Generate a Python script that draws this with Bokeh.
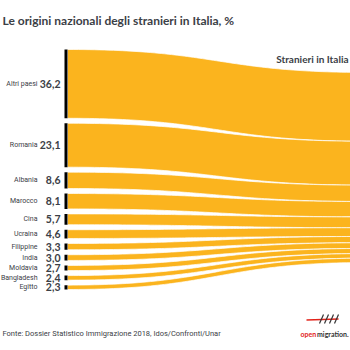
import numpy as np
from bokeh.plotting import figure
from bokeh.models import Range1d
from bokeh.core.properties import value
from bokeh.embed import file_html
from bokeh.resources import INLINE

# ---- data ----
countries = ["Altri paesi", "Romania", "Albania", "Marocco", "Cina", "Ucraina",
             "Filippine", "India", "Moldavia", "Bangladesh", "Egitto"]
shares = [36.2, 23.1, 8.6, 8.1, 5.7, 4.6, 3.3, 3.0, 2.7, 2.4, 2.3]
share_labels = ["36,2", "23,1", "8,6", "8,1", "5,7", "4,6", "3,3", "3,0", "2,7", "2,4", "2,3"]
target = "Stranieri in Italia"
title = "Le origini nazionali degli stranieri in Italia, %"
source = "Fonte: Dossier Statistico Immigrazione 2018, Idos/Confronti/Unar"

# ---- layout (screen-like units) ----
W = H = 350
scale = 1.9      # px per percentage point
gap = 5.0
left_top = 49.0
right_top = 72.0
x_node0, x_node1 = 64.0, 67.0
x_end = 368.0
x_label = 37.0
x_value = 60.0
yellow = "#FBB41E"
dark = "#3b4046"

p = figure(width=W, height=H, output_backend="svg", toolbar_location=None,
           x_range=Range1d(0, W), y_range=Range1d(H, 0),
           min_border=0, min_border_left=0, min_border_right=0,
           min_border_top=0, min_border_bottom=0)
p.axis.visible = False
p.grid.visible = False
p.outline_line_color = None
p.background_fill_color = "white"

# cubic bezier with control points at mid x (sankey link shape)
t = np.linspace(0, 1, 80)
xm = (x_node1 + x_end) / 2
bx = (1 - t)**3 * x_node1 + 3 * (1 - t)**2 * t * xm + 3 * (1 - t) * t**2 * xm + t**3 * x_end
by_w = 3 * (1 - t) * t**2 + t**3

xs, ys = [], []
lt_list, lb_list = [], []
yl = left_top
yr = right_top
for v in shares:
    h = v * scale
    lt, lb = yl, yl + h
    rt, rb = yr, yr + h
    top = lt + (rt - lt) * by_w
    bot = lb + (rb - lb) * by_w
    xs.append(list(bx) + list(bx[::-1]))
    ys.append(list(top) + list(bot[::-1]))
    lt_list.append(lt)
    lb_list.append(lb)
    yl = lb + gap
    yr = rb

p.patches(xs, ys, fill_color=yellow, line_color="white", line_width=0.7)
# left black node bars
p.quad(left=x_node0, right=x_node1, top=lt_list, bottom=lb_list,
       fill_color="black", line_color=None)

mids = [(a + b) / 2 for a, b in zip(lt_list, lb_list)]
p.text(x=[x_label] * len(countries), y=mids, text=countries,
       text_font=value("Roboto"), text_font_size="7px", text_color=dark,
       text_align="right", text_baseline="middle")
p.text(x=[x_value] * len(countries), y=mids, text=share_labels,
       text_font=value("Lato"), text_font_style="bold", text_font_size="10.5px",
       text_color=dark, text_align="right", text_baseline="middle")

p.text(x=[348], y=[58], text=[target], text_font=value("Lato"),
       text_font_style="bold", text_font_size="10px", text_color=dark,
       text_align="right", text_baseline="middle")

p.text(x=[2], y=[19.5], text=[title], text_font=value("Lato"),
       text_font_style="bold", text_font_size="12px", text_color=dark,
       text_align="left", text_baseline="middle")

p.text(x=[2], y=[333], text=[source], text_font=value("Roboto"),
       text_font_size="7.5px", text_color=dark,
       text_align="left", text_baseline="middle")

# logo
p.segment(x0=[306], y0=[319.5], x1=[338], y1=[318.5], line_color="#e2231a", line_width=1.5)
p.segment(x0=[319, 324, 329, 334], y0=[323, 323, 323, 323],
          x1=[323, 328, 333, 338], y1=[314, 314, 314, 314],
          line_color="#333333", line_width=1.2)
p.text(x=[300], y=[333.5], text=["open"], text_font=value("Lato"), text_font_style="bold",
       text_font_size="7px", text_color="#e2231a", text_align="left", text_baseline="middle")
p.text(x=[316.5], y=[333.5], text=["migration."], text_font=value("Lato"), text_font_style="bold",
       text_font_size="7px", text_color="#333333", text_align="left", text_baseline="middle")

open("out.html", "w").write(file_html(p, INLINE))
